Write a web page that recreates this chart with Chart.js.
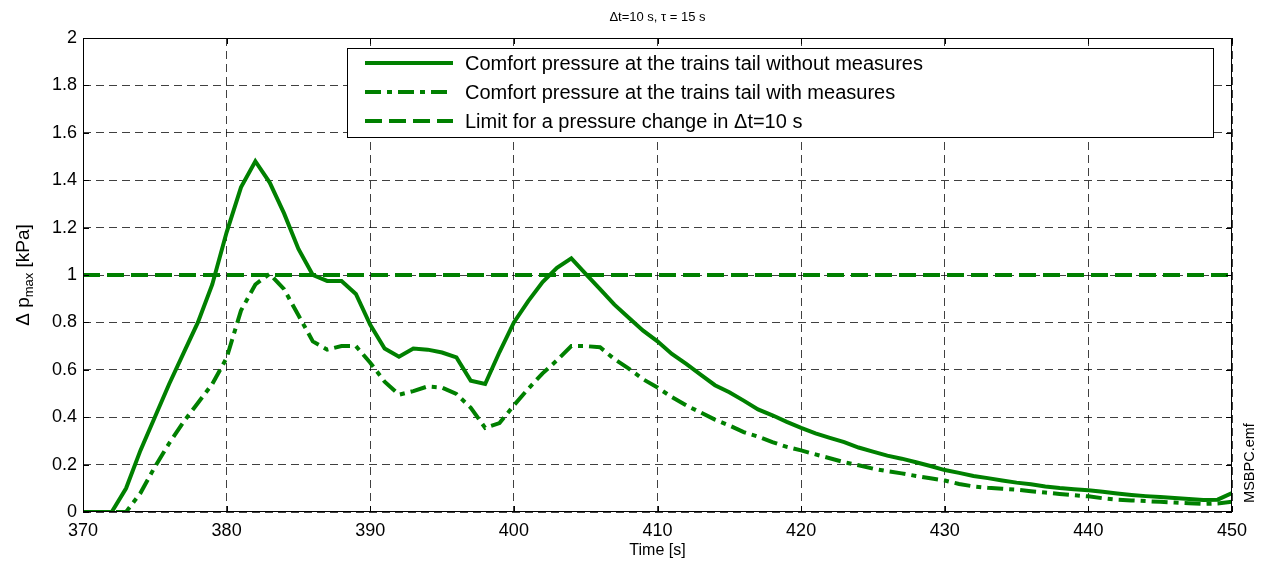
<!DOCTYPE html>
<html>
<head>
<meta charset="utf-8">
<script src="https://cdn.jsdelivr.net/npm/chart.js@4"></script>
<style>
  html, body { margin: 0; padding: 0; background: #fff; }
  #wrap { width: 1268px; height: 562px; }
</style>
</head>
<body>
<div id="wrap"><canvas id="myChart" width="1268" height="562"></canvas></div>
<script>
// time axis [s]
const tiempo = [];
for (let t = 370; t <= 450; t++) tiempo.push(t);

// comfort pressure at the trains tail without measures [kPa]
const sinMedidas = [
  0, 0, 0, 0.10, 0.26, 0.40, 0.54, 0.67, 0.80, 0.96,
  1.18, 1.37, 1.48, 1.39, 1.26, 1.11, 1.00, 0.975, 0.975, 0.92,
  0.79, 0.69, 0.655, 0.69, 0.685, 0.673, 0.652, 0.554, 0.54, 0.675,
  0.80, 0.89, 0.97, 1.03, 1.07, 1.005, 0.94, 0.875, 0.82, 0.765,
  0.72, 0.667, 0.625, 0.58, 0.535, 0.505, 0.47, 0.433, 0.408, 0.38,
  0.355, 0.332, 0.313, 0.295, 0.272, 0.255, 0.238, 0.225, 0.21, 0.194,
  0.177, 0.165, 0.152, 0.143, 0.133, 0.124, 0.117, 0.108, 0.101, 0.096,
  0.092, 0.085, 0.078, 0.072, 0.067, 0.063, 0.059, 0.055, 0.051, 0.052,
  0.08
];

// comfort pressure at the trains tail with measures [kPa]
const conMedidas = [
  0, 0, 0, 0, 0.08, 0.19, 0.29, 0.38, 0.46, 0.54,
  0.65, 0.85, 0.96, 1.005, 0.94, 0.83, 0.72, 0.685, 0.70, 0.70,
  0.63, 0.55, 0.495, 0.51, 0.53, 0.525, 0.498, 0.44, 0.355, 0.375,
  0.45, 0.52, 0.585, 0.64, 0.70, 0.70, 0.695, 0.645, 0.605, 0.56,
  0.525, 0.485, 0.45, 0.42, 0.39, 0.365, 0.337, 0.318, 0.295, 0.275,
  0.26, 0.243, 0.227, 0.21, 0.197, 0.183, 0.172, 0.163, 0.152, 0.142,
  0.133, 0.118, 0.108, 0.102, 0.098, 0.094, 0.088, 0.082, 0.076, 0.071,
  0.066, 0.058, 0.052, 0.049, 0.046, 0.043, 0.04, 0.037, 0.034, 0.036,
  0.043
];

// limit for a pressure change in 10 s [kPa]
const limiteX = [370, 450];
const limiteY = [1, 1];

const etiquetas = [
  'Comfort pressure at the trains tail without measures',
  'Comfort pressure at the trains tail with measures',
  'Limit for a pressure change in \u0394t=10 s'
];

const verde = 'rgb(0,128,0)';
const FONT = '"Liberation Sans", Arial, sans-serif';

const toPoints = (xs, ys) => xs.map((x, i) => ({ x, y: ys[i] }));

const datasets = [
  { label: etiquetas[0], data: toPoints(tiempo, sinMedidas), borderColor: verde, borderWidth: 4, borderDash: [] },
  { label: etiquetas[1], data: toPoints(tiempo, conMedidas), borderColor: verde, borderWidth: 4, borderDash: [16, 6, 5, 6] },
  { label: etiquetas[2], data: toPoints(limiteX, limiteY), borderColor: verde, borderWidth: 4, borderDash: [17, 7] }
];

// frame, inner ticks, legend box and texts like the matlab figure
const matlabPlugin = {
  id: 'matlab',
  afterDatasetsDraw(chart) {
    const { ctx, chartArea: a, scales } = chart;
    ctx.save();
    ctx.setLineDash([]);
    ctx.strokeStyle = '#000';
    ctx.lineWidth = 1;
    ctx.strokeRect(a.left + 0.5, a.top + 0.5, a.right - a.left - 1, a.bottom - a.top - 1);

    // inner tick marks
    ctx.beginPath();
    scales.x.ticks.forEach(t => {
      const px = Math.round(scales.x.getPixelForValue(t.value)) + 0.5;
      ctx.moveTo(px, a.bottom); ctx.lineTo(px, a.bottom - 6);
      ctx.moveTo(px, a.top); ctx.lineTo(px, a.top + 6);
    });
    scales.y.ticks.forEach(t => {
      const py = Math.round(scales.y.getPixelForValue(t.value)) + 0.5;
      ctx.moveTo(a.left, py); ctx.lineTo(a.left + 6, py);
      ctx.moveTo(a.right, py); ctx.lineTo(a.right - 6, py);
    });
    ctx.stroke();

    // legend
    const box = { x: 347, y: 48, w: 866, h: 89 };
    ctx.fillStyle = '#fff';
    ctx.fillRect(box.x, box.y, box.w, box.h);
    ctx.strokeRect(box.x + 0.5, box.y + 0.5, box.w, box.h);
    const filas = [63, 92, 121];
    chart.data.datasets.forEach((ds, i) => {
      ctx.strokeStyle = ds.borderColor;
      ctx.lineWidth = ds.borderWidth;
      ctx.setLineDash(ds.borderDash);
      ctx.beginPath();
      ctx.moveTo(365, filas[i]);
      ctx.lineTo(453, filas[i]);
      ctx.stroke();
      ctx.fillStyle = '#000';
      ctx.font = '20px ' + FONT;
      ctx.textAlign = 'left';
      ctx.textBaseline = 'middle';
      ctx.fillText(ds.label, 465, filas[i] + 1);
    });
    ctx.setLineDash([]);

    // title
    ctx.fillStyle = '#000';
    ctx.font = '13px ' + FONT;
    ctx.textAlign = 'center';
    ctx.textBaseline = 'middle';
    ctx.fillText('\u0394t=10 s, \u03c4 = 15 s', (a.left + a.right) / 2, 17);

    // x title
    ctx.font = '16px ' + FONT;
    ctx.fillText('Time [s]', (a.left + a.right) / 2, 551);

    // y title with subscript
    ctx.save();
    ctx.translate(22, (a.top + a.bottom) / 2);
    ctx.rotate(-Math.PI / 2);
    ctx.textAlign = 'left';
    ctx.textBaseline = 'alphabetic';
    const p1 = '\u0394 p', p2 = 'max', p3 = ' [kPa]';
    ctx.font = '19px ' + FONT;
    const w1 = ctx.measureText(p1).width, w3 = ctx.measureText(p3).width;
    ctx.font = '13px ' + FONT;
    const w2 = ctx.measureText(p2).width;
    let x0 = -(w1 + w2 + w3) / 2;
    ctx.font = '19px ' + FONT;
    ctx.fillText(p1, x0, 7);
    ctx.font = '13px ' + FONT;
    ctx.fillText(p2, x0 + w1, 11);
    ctx.font = '19px ' + FONT;
    ctx.fillText(p3, x0 + w1 + w2, 7);
    ctx.restore();

    // file tag at the right side
    ctx.save();
    ctx.translate(1250, 463);
    ctx.rotate(-Math.PI / 2);
    ctx.font = '14.5px ' + FONT;
    ctx.textAlign = 'center';
    ctx.textBaseline = 'middle';
    ctx.fillText('MSBPC.emf', 0, 0);
    ctx.restore();

    ctx.restore();
  }
};

const config = {
  type: 'line',
  data: { datasets },
  options: {
    responsive: false,
    animation: false,
    layout: { padding: { left: 0, right: 36, top: 38, bottom: 0 } },
    elements: { point: { radius: 0 }, line: { tension: 0, borderCapStyle: 'butt', fill: false } },
    plugins: { legend: { display: false }, tooltip: { enabled: false } },
    scales: {
      x: {
        type: 'linear', min: 370, max: 450,
        afterFit: s => { s.height = 50; },
        ticks: { stepSize: 10, color: '#000', font: { family: FONT, size: 18 }, padding: 8, maxRotation: 0 },
        grid: { color: 'rgba(0,0,0,0.75)', lineWidth: 1, tickLength: 0 },
        border: { display: false, dash: [8, 5] }
      },
      y: {
        min: 0, max: 2,
        afterFit: s => { s.width = 83; },
        ticks: { stepSize: 0.2, color: '#000', font: { family: FONT, size: 18 }, padding: 6,
          callback: v => String(+v.toFixed(1)) },
        grid: { color: 'rgba(0,0,0,0.75)', lineWidth: 1, tickLength: 0 },
        border: { display: false, dash: [8, 5] }
      }
    }
  },
  plugins: [matlabPlugin]
};

const myChart = new Chart(document.getElementById('myChart'), config);
</script>
</body>
</html>
